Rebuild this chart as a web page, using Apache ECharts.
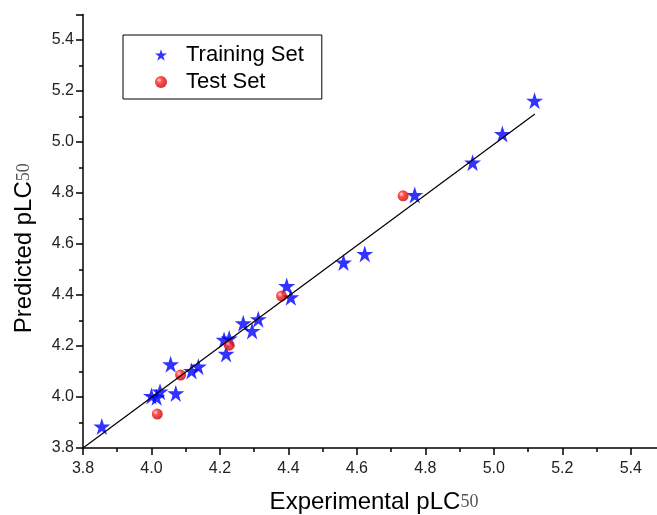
<!DOCTYPE html>
<html>
<head>
<meta charset="utf-8">
<script src="https://cdn.jsdelivr.net/npm/echarts@6/dist/echarts.min.js"></script>
<style>
html, body { margin: 0; padding: 0; background: #fff; }
#main { width: 657px; height: 515px; }
</style>
</head>
<body>
<div id="main"></div>
<script>
// experimental vs predicted pLC50
var trainingSet = [
    [3.855, 3.884], [4.000, 4.004], [4.015, 3.999], [4.025, 4.021],
    [4.056, 4.128], [4.071, 4.014], [4.117, 4.102], [4.137, 4.119],
    [4.212, 4.224], [4.227, 4.229], [4.218, 4.169], [4.268, 4.289],
    [4.294, 4.259], [4.312, 4.305], [4.395, 4.435], [4.407, 4.391],
    [4.561, 4.527], [4.623, 4.561], [4.769, 4.792], [4.938, 4.919],
    [5.025, 5.031], [5.119, 5.162]
];
var testSet = [
    [4.017, 3.933], [4.085, 4.086], [4.227, 4.203], [4.380, 4.396], [4.735, 4.789]
];
var fitLine = [[3.8, 3.8], [5.12, 5.11]];

var starPath = 'path://M50,0 L62,36 L100,36 L69,58 L81,95 L50,72 L19,95 L31,58 L0,36 L38,36 Z';

var myChart = echarts.init(document.getElementById('main'));

var axisCommon = {
    type: 'value',
    min: 3.8,
    max: 5.5,
    interval: 0.2,
    nameLocation: 'middle',
    axisLine: { show: true, lineStyle: { color: '#000', width: 1.5 } },
    axisTick: { show: true, inside: false, length: 7, lineStyle: { color: '#000', width: 1.5 } },
    minorTick: { show: true, splitNumber: 2, length: 4, lineStyle: { color: '#000', width: 1.5 } },
    splitLine: { show: false },
    axisLabel: {
        color: '#222',
        fontSize: 16,
        fontFamily: 'Liberation Sans, Arial',
        showMaxLabel: false,
        formatter: function (v) { return v.toFixed(1); }
    }
};

var nameRich = {
    a: { fontSize: 24, fontFamily: 'Liberation Sans, Arial', color: '#000' },
    b: { fontSize: 18, fontFamily: 'Liberation Serif, Times New Roman', color: '#555' }
};

var option = {
    animation: false,
    grid: { left: 83, top: 14.5, width: 582, height: 433.5, outerBoundsMode: 'none', containLabel: false },
    legend: {
        orient: 'vertical',
        left: 123,
        top: 35,
        data: ['Training Set', 'Test Set'],
        borderColor: '#000',
        borderWidth: 1,
        padding: [9, 18, 6, 32],
        itemWidth: 12,
        itemHeight: 12,
        itemGap: 5,
        textStyle: {
            fontSize: 22,
            fontFamily: 'Liberation Sans, Arial',
            color: '#000',
            lineHeight: 22,
            padding: [0, 0, 0, 14]
        }
    },
    xAxis: Object.assign({}, axisCommon, {
        name: '{a|Experimental pLC}{b|50}',
        nameGap: 42,
        nameTextStyle: { rich: nameRich },
        axisLabel: Object.assign({}, axisCommon.axisLabel, { margin: 13 })
    }),
    yAxis: Object.assign({}, axisCommon, {
        name: '{a|Predicted pLC}{b|50}',
        nameGap: 47,
        nameTextStyle: { rich: nameRich, padding: [0, 34, 0, 0] },
        axisLabel: Object.assign({}, axisCommon.axisLabel, { margin: 9 })
    }),
    series: [
        {
            name: 'fit',
            type: 'line',
            data: fitLine,
            symbol: 'none',
            lineStyle: { color: '#000', width: 1.2 },
            silent: true
        },
        {
            name: 'Training Set',
            type: 'scatter',
            data: trainingSet,
            symbol: starPath,
            symbolSize: 17,
            itemStyle: { color: '#0000ff' }
        },
        {
            name: 'Test Set',
            type: 'scatter',
            data: testSet,
            symbol: 'circle',
            symbolSize: 11,
            itemStyle: {
                color: {
                    type: 'radial', x: 0.35, y: 0.35, r: 0.7,
                    colorStops: [
                        { offset: 0, color: '#ffd0d0' },
                        { offset: 0.35, color: '#ff2020' },
                        { offset: 1, color: '#c00000' }
                    ]
                }
            }
        }
    ]
};

myChart.setOption(option);
</script>
</body>
</html>
